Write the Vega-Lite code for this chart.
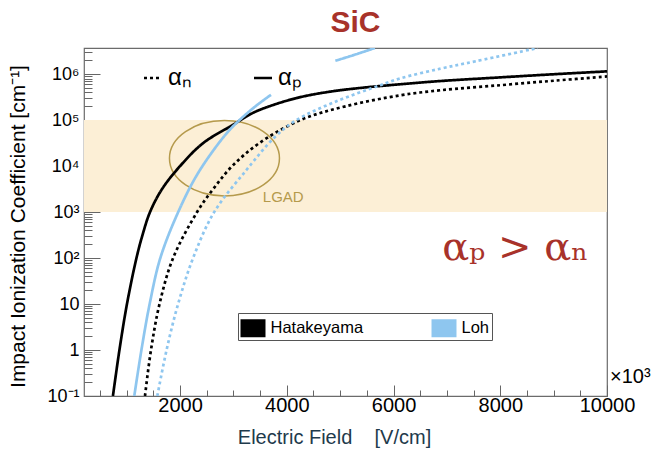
{
  "$schema": "https://vega.github.io/schema/vega-lite/v6.json",
  "width": 523,
  "height": 348,
  "autosize": "none",
  "padding": {"left": 84, "top": 48, "right": 47, "bottom": 57},
  "background": "white",
  "title": {"text": "SiC", "font": "Liberation Sans", "fontSize": 30, "fontWeight": "bold", "color": "#a8322a", "anchor": "middle", "frame": "group", "dx": 10, "dy": 34, "offset": 15, "baseline": "alphabetic"},
  "config": {"view": {"stroke": "#6b6b6b", "strokeWidth": 1.2}, "font": "Liberation Sans"},
  "datasets": {
    "curves": [
      {"model": "Hatakeyama", "carrier": "αₚ", "seg": "Hp", "E": 742, "a": 0.1},
      {"model": "Hatakeyama", "carrier": "αₚ", "seg": "Hp", "E": 864, "a": 1},
      {"model": "Hatakeyama", "carrier": "αₚ", "seg": "Hp", "E": 1005, "a": 10},
      {"model": "Hatakeyama", "carrier": "αₚ", "seg": "Hp", "E": 1183, "a": 100},
      {"model": "Hatakeyama", "carrier": "αₚ", "seg": "Hp", "E": 1296, "a": 316.2},
      {"model": "Hatakeyama", "carrier": "αₚ", "seg": "Hp", "E": 1437, "a": 1000},
      {"model": "Hatakeyama", "carrier": "αₚ", "seg": "Hp", "E": 1662, "a": 3162},
      {"model": "Hatakeyama", "carrier": "αₚ", "seg": "Hp", "E": 2000, "a": 10000},
      {"model": "Hatakeyama", "carrier": "αₚ", "seg": "Hp", "E": 2432, "a": 31620},
      {"model": "Hatakeyama", "carrier": "αₚ", "seg": "Hp", "E": 2995, "a": 79430},
      {"model": "Hatakeyama", "carrier": "αₚ", "seg": "Hp", "E": 3352, "a": 141300},
      {"model": "Hatakeyama", "carrier": "αₚ", "seg": "Hp", "E": 3747, "a": 213800},
      {"model": "Hatakeyama", "carrier": "αₚ", "seg": "Hp", "E": 4254, "a": 316200},
      {"model": "Hatakeyama", "carrier": "αₚ", "seg": "Hp", "E": 4817, "a": 416900},
      {"model": "Hatakeyama", "carrier": "αₚ", "seg": "Hp", "E": 5381, "a": 501200},
      {"model": "Hatakeyama", "carrier": "αₚ", "seg": "Hp", "E": 6132, "a": 602600},
      {"model": "Hatakeyama", "carrier": "αₚ", "seg": "Hp", "E": 6883, "a": 707900},
      {"model": "Hatakeyama", "carrier": "αₚ", "seg": "Hp", "E": 8010, "a": 851100},
      {"model": "Hatakeyama", "carrier": "αₚ", "seg": "Hp", "E": 9043, "a": 1000000},
      {"model": "Hatakeyama", "carrier": "αₚ", "seg": "Hp", "E": 10000, "a": 1148000},
      {"model": "Hatakeyama", "carrier": "αₙ", "seg": "Hn", "E": 1343, "a": 0.1},
      {"model": "Hatakeyama", "carrier": "αₙ", "seg": "Hn", "E": 1455, "a": 1},
      {"model": "Hatakeyama", "carrier": "αₙ", "seg": "Hn", "E": 1615, "a": 10},
      {"model": "Hatakeyama", "carrier": "αₙ", "seg": "Hn", "E": 1869, "a": 100},
      {"model": "Hatakeyama", "carrier": "αₙ", "seg": "Hn", "E": 2319, "a": 1000},
      {"model": "Hatakeyama", "carrier": "αₙ", "seg": "Hn", "E": 2620, "a": 3162},
      {"model": "Hatakeyama", "carrier": "αₙ", "seg": "Hn", "E": 2977, "a": 10000},
      {"model": "Hatakeyama", "carrier": "αₙ", "seg": "Hn", "E": 3484, "a": 31620},
      {"model": "Hatakeyama", "carrier": "αₙ", "seg": "Hn", "E": 4254, "a": 100000},
      {"model": "Hatakeyama", "carrier": "αₙ", "seg": "Hn", "E": 5099, "a": 199500},
      {"model": "Hatakeyama", "carrier": "αₙ", "seg": "Hn", "E": 6132, "a": 346700},
      {"model": "Hatakeyama", "carrier": "αₙ", "seg": "Hn", "E": 6883, "a": 446700},
      {"model": "Hatakeyama", "carrier": "αₙ", "seg": "Hn", "E": 8010, "a": 575400},
      {"model": "Hatakeyama", "carrier": "αₙ", "seg": "Hn", "E": 9043, "a": 724400},
      {"model": "Hatakeyama", "carrier": "αₙ", "seg": "Hn", "E": 10000, "a": 891300},
      {"model": "Loh", "carrier": "αₚ", "seg": "Lp1", "E": 1142, "a": 0.1},
      {"model": "Loh", "carrier": "αₚ", "seg": "Lp1", "E": 1276, "a": 1},
      {"model": "Loh", "carrier": "αₚ", "seg": "Lp1", "E": 1430, "a": 10},
      {"model": "Loh", "carrier": "αₚ", "seg": "Lp1", "E": 1630, "a": 100},
      {"model": "Loh", "carrier": "αₚ", "seg": "Lp1", "E": 1965, "a": 1000},
      {"model": "Loh", "carrier": "αₚ", "seg": "Lp1", "E": 2333, "a": 6918},
      {"model": "Loh", "carrier": "αₚ", "seg": "Lp1", "E": 2820, "a": 43650},
      {"model": "Loh", "carrier": "αₚ", "seg": "Lp1", "E": 3050, "a": 85110},
      {"model": "Loh", "carrier": "αₚ", "seg": "Lp1", "E": 3402, "a": 195000},
      {"model": "Loh", "carrier": "αₚ", "seg": "Lp1", "E": 3704, "a": 354800},
      {"model": "Loh", "carrier": "αₚ", "seg": "Lp2", "E": 4910, "a": 1950000},
      {"model": "Loh", "carrier": "αₚ", "seg": "Lp2", "E": 5268, "a": 2630000},
      {"model": "Loh", "carrier": "αₚ", "seg": "Lp2", "E": 5650, "a": 3700000},
      {"model": "Loh", "carrier": "αₙ", "seg": "Ln", "E": 1574, "a": 0.1},
      {"model": "Loh", "carrier": "αₙ", "seg": "Ln", "E": 1747, "a": 1},
      {"model": "Loh", "carrier": "αₙ", "seg": "Ln", "E": 1963, "a": 10},
      {"model": "Loh", "carrier": "αₙ", "seg": "Ln", "E": 2244, "a": 100},
      {"model": "Loh", "carrier": "αₙ", "seg": "Ln", "E": 2639, "a": 1000},
      {"model": "Loh", "carrier": "αₙ", "seg": "Ln", "E": 3240, "a": 8128},
      {"model": "Loh", "carrier": "αₙ", "seg": "Ln", "E": 3784, "a": 43650},
      {"model": "Loh", "carrier": "αₙ", "seg": "Ln", "E": 4179, "a": 100000},
      {"model": "Loh", "carrier": "αₙ", "seg": "Ln", "E": 4911, "a": 251200},
      {"model": "Loh", "carrier": "αₙ", "seg": "Ln", "E": 5756, "a": 575400},
      {"model": "Loh", "carrier": "αₙ", "seg": "Ln", "E": 6132, "a": 812800},
      {"model": "Loh", "carrier": "αₙ", "seg": "Ln", "E": 6883, "a": 1318000},
      {"model": "Loh", "carrier": "αₙ", "seg": "Ln", "E": 7540, "a": 1905000},
      {"model": "Loh", "carrier": "αₙ", "seg": "Ln", "E": 8704, "a": 3700000}
    ],
    "band": [{"E": 200, "E2": 10000, "a": 1000, "a2": 100000}],
    "lgad": [{"E": 2832, "a": 14790, "label": "LGAD", "lE": 3934, "la": 2130}],
    "notes": [{"E": 6915, "a": 91, "label": "αₚ > αₙ"}],
    "unit": [{"E": 10000, "a": 0.1, "label": "×10³"}]
  },
  "encoding": {
    "x": {
      "field": "E", "type": "quantitative",
      "scale": {"domain": [200, 10000], "nice": false, "zero": false},
      "axis": {
        "values": [500, 1000, 1500, 2000, 2500, 3000, 3500, 4000, 4500, 5000, 5500, 6000, 6500, 7000, 7500, 8000, 8500, 9000, 9500, 10000],
        "domain": false, "grid": false, "tickColor": "#666", "tickWidth": 1,
        "tickSize": {"condition": {"test": "datum.value % 2000 === 0", "value": -11}, "value": -6},
        "labelExpr": "datum.value % 2000 === 0 ? format(datum.value, 'd') : ''",
        "labelFont": "Liberation Sans", "labelFontSize": 20, "labelColor": "black",
        "labelFlush": false, "labelOverlap": false, "labelPadding": 10,
        "title": "Electric Field\u00a0\u00a0\u00a0\u00a0[V/cm]",
        "titleFont": "Liberation Sans", "titleFontSize": 20, "titleFontWeight": "normal", "titleColor": "#1e3a4c",
        "titleX": 250, "titleY": 41, "titleBaseline": "middle", "titleAlign": "center"
      }
    },
    "y": {
      "field": "a", "type": "quantitative",
      "scale": {"type": "log", "domain": [0.1, 3700000], "nice": false},
      "axis": {
        "values": [0.1, 0.2, 0.3, 0.4, 0.5, 0.6, 0.7, 0.8, 0.9, 1, 2, 3, 4, 5, 6, 7, 8, 9, 10, 20, 30, 40, 50, 60, 70, 80, 90, 100, 200, 300, 400, 500, 600, 700, 800, 900, 1000, 2000, 3000, 4000, 5000, 6000, 7000, 8000, 9000, 10000, 20000, 30000, 40000, 50000, 60000, 70000, 80000, 90000, 100000, 200000, 300000, 400000, 500000, 600000, 700000, 800000, 900000, 1000000, 2000000, 3000000],
        "domain": false, "grid": false, "tickColor": "#666", "tickWidth": 1,
        "tickSize": {"condition": {"test": "indexof([0.1, 1, 10, 100, 1000, 10000, 100000, 1000000], datum.value) >= 0", "value": -16}, "value": -8},
        "labelExpr": "datum.value === 0.1 ? '10⁻¹' : datum.value === 1 ? '1' : datum.value === 10 ? '10' : datum.value === 100 ? '10²' : datum.value === 1000 ? '10³' : datum.value === 10000 ? '10⁴' : datum.value === 100000 ? '10⁵' : datum.value === 1000000 ? '10⁶' : ''",
        "labelFont": "Liberation Sans", "labelFontSize": 18, "labelColor": "black",
        "labelOverlap": false, "labelPadding": 21, "labelFlush": false,
        "title": "Impact Ionization Coefficient [cm⁻¹]",
        "titleFont": "Liberation Sans", "titleFontSize": 21, "titleFontWeight": "normal", "titleColor": "black",
        "titleX": -66, "titleY": 178, "titleAngle": 270, "titleBaseline": "middle", "titleAlign": "center"
      }
    }
  },
  "layer": [
    {
      "data": {"name": "band"},
      "mark": {"type": "rect", "color": "#fcefd6"},
      "encoding": {"x2": {"field": "E2"}, "y2": {"field": "a2"}}
    },
    {
      "data": {"name": "lgad"},
      "mark": {"type": "point", "filled": false, "shape": "M -1 0 A 1 0.685 0 1 1 1 0 A 1 0.685 0 1 1 -1 0 Z", "size": 12100, "stroke": "#b59a4c", "strokeWidth": 1.5, "opacity": 1}
    },
    {
      "data": {"name": "lgad"},
      "mark": {"type": "text", "font": "Liberation Sans", "fontSize": 15, "color": "#b59a4c", "align": "center", "baseline": "middle"},
      "encoding": {"x": {"field": "lE", "type": "quantitative"}, "y": {"field": "la", "type": "quantitative"}, "text": {"field": "label"}}
    },
    {
      "data": {"name": "curves"},
      "mark": {"type": "line", "interpolate": "catmull-rom", "strokeWidth": 2.7, "clip": true, "strokeCap": "butt"},
      "encoding": {
        "color": {
          "field": "model", "type": "nominal",
          "scale": {"domain": ["Hatakeyama", "Loh"], "range": ["#000000", "#8ec6ef"]},
          "legend": {
            "orient": "none", "legendX": 154, "legendY": 265, "direction": "horizontal", "title": null,
            "symbolType": "M -1 -0.72 L 1 -0.72 L 1 0.72 L -1 0.72 Z", "symbolSize": 625, "symbolStrokeWidth": 0,
            "labelFont": "Liberation Sans", "labelFontSize": 16.5, "labelColor": "black", "labelOffset": 5,
            "labelExpr": "datum.label === 'Loh' ? 'Loh\u2003\u2003\u2003' : datum.label",
            "columnPadding": 68, "padding": 2.5, "strokeColor": "#555", "fillColor": "white",
            "encode": {"symbols": {"update": {"fill": {"signal": "scale('color', datum.value)"}, "stroke": {"value": "transparent"}, "opacity": {"value": 1}}}}
          }
        },
        "strokeDash": {
          "field": "carrier", "type": "nominal",
          "scale": {"domain": ["αₙ", "αₚ"], "range": [[3, 3], [1, 0]]},
          "legend": {
            "orient": "none", "legendX": 57, "legendY": 18, "direction": "horizontal", "title": null,
            "symbolType": "stroke", "symbolSize": 324, "symbolStrokeWidth": 2.5, "symbolStrokeColor": "black",
            "labelFont": "Liberation Sans", "labelFontSize": 24, "labelColor": "black", "labelOffset": 3,
            "columnPadding": 57, "padding": 0,
            "encode": {"symbols": {"update": {"stroke": {"value": "black"}, "strokeWidth": {"value": 2.5}, "opacity": {"value": 1}}}}
          }
        },
        "detail": {"field": "seg"}
      }
    },
    {
      "data": {"name": "notes"},
      "mark": {"type": "text", "font": "DejaVu Serif", "fontSize": 40, "color": "#a8322a", "align": "left", "baseline": "alphabetic"},
      "encoding": {"text": {"field": "label"}}
    },
    {
      "data": {"name": "unit"},
      "mark": {"type": "text", "font": "Liberation Sans", "fontSize": 20, "color": "black", "align": "left", "baseline": "alphabetic", "dx": 3, "dy": -13},
      "encoding": {"text": {"field": "label"}}
    }
  ]
}
